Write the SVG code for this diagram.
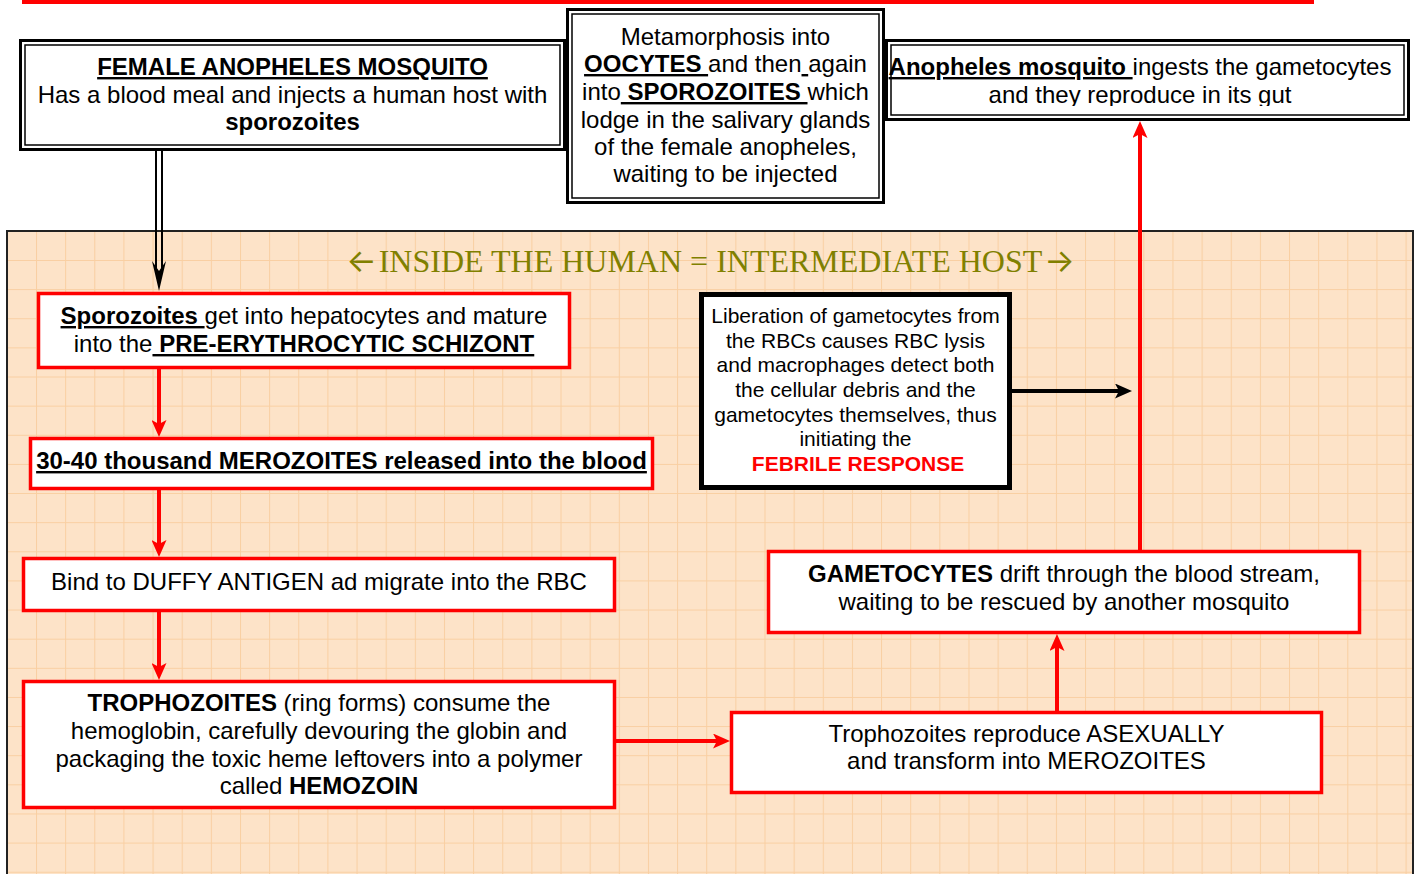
<svg xmlns="http://www.w3.org/2000/svg" width="1421" height="874" viewBox="0 0 1421 874">
<style>
text{font-family:"Liberation Sans",Arial,sans-serif;font-size:24px;fill:#000;text-anchor:middle}
.b{font-weight:bold}
.u{text-decoration:underline}
.sm{font-size:21px}
.red{fill:#ff0000}
.title{font-family:"Liberation Serif","Times New Roman",serif;font-size:32px;fill:#808000}
.arr{font-family:Inter,"DejaVu Sans",sans-serif;font-size:32px}
.rbox{fill:#fff;stroke:#ff0000;stroke-width:3.5}
.outer{fill:#fff;stroke:#000;stroke-width:3}
.inner{fill:none;stroke:#000;stroke-width:1.5}
.rl{fill:none;stroke:#ff0000;stroke-width:4}
.bl{fill:none;stroke:#000;stroke-width:4}
</style>
<defs>
<pattern id="grid" x="6.86" y="230.87" width="29.14" height="29.13" patternUnits="userSpaceOnUse">
<rect width="29.14" height="29.13" fill="#fde3c8"/>
<path d="M0,0.5 H29.14 M0.5,0 V29.13" stroke="#f9cfa2" stroke-width="1" fill="none"/>
</pattern>
<marker id="ar" viewBox="0 0 17 15" refX="4" refY="7.5" markerWidth="17" markerHeight="15" markerUnits="userSpaceOnUse" orient="auto">
<path d="M0,0 L17,7.5 L0,15 L4,7.5 Z" fill="#ff0000"/>
</marker>
<marker id="ab" viewBox="0 0 17 15" refX="4" refY="7.5" markerWidth="17" markerHeight="15" markerUnits="userSpaceOnUse" orient="auto">
<path d="M0,0 L17,7.5 L0,15 L4,7.5 Z" fill="#000"/>
</marker>
<clipPath id="clipTR"><rect x="886" y="40" width="524" height="66"/></clipPath>
</defs>

<rect x="0" y="0" width="1421" height="874" fill="#fff"/>
<rect x="22" y="0" width="1292" height="4" fill="#ff0000"/>

<g id="panel">
<rect x="7" y="231" width="1406" height="660" fill="url(#grid)" stroke="#222" stroke-width="2"/>
<text class="title" x="361.5" y="272"><tspan class="arr">←</tspan></text>
<text class="title" x="710.5" y="272">INSIDE THE HUMAN = INTERMEDIATE HOST</text>
<text class="title" x="1059.5" y="272"><tspan class="arr">→</tspan></text>
</g>

<g id="connectors">
<path d="M156,151 V268 M162,151 V268" stroke="#000" stroke-width="2" fill="none"/>
<path d="M152,261 L159,291 L166,261 L159,271 Z" fill="#000"/>
<path class="rl" d="M159,369 V424" marker-end="url(#ar)"/>
<path class="rl" d="M159,490 V544" marker-end="url(#ar)"/>
<path class="rl" d="M159,612 V667" marker-end="url(#ar)"/>
<path class="rl" d="M616,741 H717" marker-end="url(#ar)"/>
<path class="rl" d="M1057,711 V647" marker-end="url(#ar)"/>
<path class="rl" d="M1140,550 V134" marker-end="url(#ar)"/>
<path class="bl" d="M1012,391 H1119" marker-end="url(#ab)"/>
</g>

<g id="female-mosquito">
<rect class="outer" x="20.5" y="40.5" width="544" height="109"/>
<rect class="inner" x="25" y="45" width="535" height="100"/>
<text x="292.5" y="75" class="b u">FEMALE ANOPHELES MOSQUITO</text>
<text x="292.5" y="103">Has a blood meal and injects a human host with</text>
<text x="292.5" y="130" class="b">sporozoites</text>
</g>

<g id="metamorphosis">
<rect class="outer" x="567.5" y="9.5" width="316" height="193"/>
<rect class="inner" x="572" y="14" width="307" height="184"/>
<text x="725.5" y="45">Metamorphosis into</text>
<text x="725.5" y="72" xml:space="preserve"><tspan class="b u">OOCYTES </tspan>and then<tspan class="u"> </tspan>again</text>
<text x="725.5" y="100" xml:space="preserve">into<tspan class="b u"> SPOROZOITES </tspan>which</text>
<text x="725.5" y="128">lodge in the salivary glands</text>
<text x="725.5" y="155">of the female anopheles,</text>
<text x="725.5" y="182">waiting to be injected</text>
</g>

<g id="ingests">
<rect class="outer" x="886.5" y="40.5" width="522" height="79"/>
<rect class="inner" x="891" y="45" width="513" height="70"/>
<g clip-path="url(#clipTR)">
<text x="1140" y="75" xml:space="preserve"><tspan class="b u">Anopheles mosquito </tspan>ingests the gametocytes</text>
<text x="1140" y="103">and they reproduce in its gut</text>
</g>
</g>

<g id="sporozoites">
<rect class="rbox" x="38.5" y="293.5" width="531" height="74"/>
<text x="304" y="324" xml:space="preserve"><tspan class="b u">Sporozoites </tspan>get into hepatocytes and mature</text>
<text x="304" y="352" xml:space="preserve">into the<tspan class="b u"> PRE-ERYTHROCYTIC SCHIZONT</tspan></text>
</g>

<g id="merozoites">
<rect class="rbox" x="30.5" y="438.5" width="622" height="50"/>
<text x="341.5" y="469" class="b u">30-40 thousand MEROZOITES released into the blood</text>
</g>

<g id="duffy">
<rect class="rbox" x="23.5" y="558.5" width="591" height="52"/>
<text x="319" y="590">Bind to DUFFY ANTIGEN ad migrate into the RBC</text>
</g>

<g id="trophozoites">
<rect class="rbox" x="23.5" y="681.5" width="591" height="126"/>
<text x="319" y="711"><tspan class="b">TROPHOZOITES</tspan> (ring forms) consume the</text>
<text x="319" y="739">hemoglobin, carefully devouring the globin and</text>
<text x="319" y="767">packaging the toxic heme leftovers into a polymer</text>
<text x="319" y="794">called <tspan class="b">HEMOZOIN</tspan></text>
</g>

<g id="asexual">
<rect class="rbox" x="731.5" y="712.5" width="590" height="80"/>
<text x="1026.5" y="742">Trophozoites reproduce ASEXUALLY</text>
<text x="1026.5" y="769">and transform into MEROZOITES</text>
</g>

<g id="gametocytes">
<rect class="rbox" x="768.5" y="551.5" width="591" height="81"/>
<text x="1064" y="582"><tspan class="b">GAMETOCYTES</tspan> drift through the blood stream,</text>
<text x="1064" y="610">waiting to be rescued by another mosquito</text>
</g>

<g id="liberation">
<rect x="701.5" y="294.5" width="308" height="193" fill="#fff" stroke="#000" stroke-width="5"/>
<text class="sm" x="855.5" y="322.5">Liberation of gametocytes from</text>
<text class="sm" x="855.5" y="347.5">the RBCs causes RBC lysis</text>
<text class="sm" x="855.5" y="371.5">and macrophages detect both</text>
<text class="sm" x="855.5" y="396.5">the cellular debris and the</text>
<text class="sm" x="855.5" y="421.5">gametocytes themselves, thus</text>
<text class="sm" x="855.5" y="445.5">initiating the</text>
<text class="sm b red" x="858" y="470.5">FEBRILE RESPONSE</text>
</g>
</svg>
